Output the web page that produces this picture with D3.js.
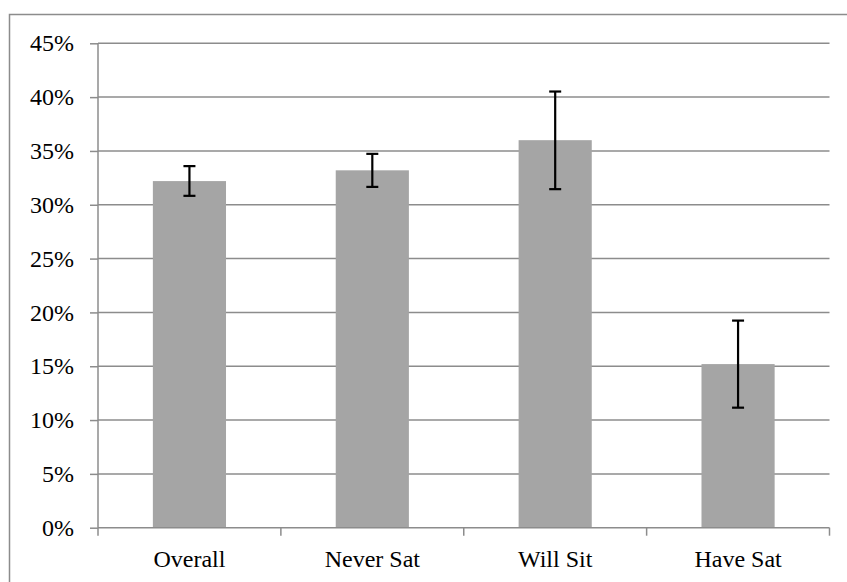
<!DOCTYPE html>
<html>
<head>
<meta charset="utf-8">
<script src="https://cdn.jsdelivr.net/npm/d3@7"></script>
<style>
  html, body { margin: 0; padding: 0; background: #fff; }
  svg { display: block; }
</style>
</head>
<body>
<svg id="chart" width="847" height="582"></svg>
<script>
const categories = ["Overall", "Never Sat", "Will Sit", "Have Sat"];
const values = [0.322, 0.332, 0.360, 0.152];
const errLow = [0.3083, 0.3166, 0.3145, 0.1115];
const errHigh = [0.3359, 0.3473, 0.4052, 0.1924];
const yTicks = [0, 0.05, 0.10, 0.15, 0.20, 0.25, 0.30, 0.35, 0.40, 0.45];

(function () {
const svg = d3.select("#chart");
const W = 847, H = 582;
const pLeft = 98, pRight = 829.5, pTop = 43.3, pBottom = 527.7;
const font = '"Liberation Serif", "Times New Roman", Tinos, "DejaVu Serif", serif';
const fontSize = "24px";
const gridColor = "#8c8c8c";

// chart border
svg.append("rect")
  .attr("x", 9.5).attr("y", 14.5)
  .attr("width", W + 10).attr("height", H + 10)
  .attr("fill", "none").attr("stroke", gridColor).attr("stroke-width", 1.5);

const x = d3.scaleBand().domain(categories).range([pLeft, pRight]).paddingInner(0.6).paddingOuter(0.3);
const y = d3.scaleLinear().domain([0, 0.45]).range([pBottom, pTop]);

// gridlines
svg.append("g").selectAll("line").data(yTicks.filter(d => d > 0)).join("line")
  .attr("x1", pLeft).attr("x2", pRight)
  .attr("y1", d => y(d)).attr("y2", d => y(d))
  .attr("stroke", gridColor).attr("stroke-width", 1.5);

// y axis
const yAxis = svg.append("g").attr("transform", `translate(${pLeft},0)`)
  .call(d3.axisLeft(y).tickValues(yTicks).tickFormat(d3.format(".0%")).tickSize(8).tickPadding(16));
yAxis.attr("font-family", null).attr("font-size", null);
yAxis.select(".domain").attr("stroke", gridColor).attr("stroke-width", 1.5)
  .attr("d", `M0,${pTop}V${pBottom}`);
yAxis.selectAll(".tick line").attr("stroke", gridColor).attr("stroke-width", 1.5);
yAxis.selectAll(".tick text").style("font-family", font).style("font-size", fontSize).attr("fill", "#000");

// bars
svg.append("g").selectAll("rect").data(categories).join("rect")
  .attr("x", d => x(d)).attr("width", x.bandwidth())
  .attr("y", (d, i) => y(values[i])).attr("height", (d, i) => pBottom - y(values[i]))
  .attr("fill", "#a5a5a5");

// x axis
const step = (pRight - pLeft) / categories.length;
const xAxisG = svg.append("g").attr("transform", `translate(0,${pBottom})`);
xAxisG.append("line").attr("x1", pLeft).attr("x2", pRight).attr("y1", 0).attr("y2", 0)
  .attr("stroke", gridColor).attr("stroke-width", 1.5);
const boundaries = d3.range(categories.length + 1).map(i => pLeft + i * step);
xAxisG.selectAll("line.tk").data(boundaries).join("line").attr("class", "tk")
  .attr("x1", d => d).attr("x2", d => d).attr("y1", 0).attr("y2", 8)
  .attr("stroke", gridColor).attr("stroke-width", 1.5);
xAxisG.selectAll("text").data(categories).join("text")
  .attr("x", d => x(d) + x.bandwidth() / 2).attr("y", 39)
  .attr("text-anchor", "middle")
  .style("font-family", font).style("font-size", fontSize).attr("fill", "#000")
  .text(d => d);

// error bars
const eb = svg.append("g").attr("stroke", "#000").attr("stroke-width", 2.2);
categories.forEach((c, i) => {
  const cx = x(c) + x.bandwidth() / 2;
  eb.append("line").attr("x1", cx).attr("x2", cx).attr("y1", y(errHigh[i])).attr("y2", y(errLow[i]));
  eb.append("line").attr("x1", cx - 6).attr("x2", cx + 6).attr("y1", y(errHigh[i])).attr("y2", y(errHigh[i]));
  eb.append("line").attr("x1", cx - 6).attr("x2", cx + 6).attr("y1", y(errLow[i])).attr("y2", y(errLow[i]));
});
})();
</script>
</body>
</html>
